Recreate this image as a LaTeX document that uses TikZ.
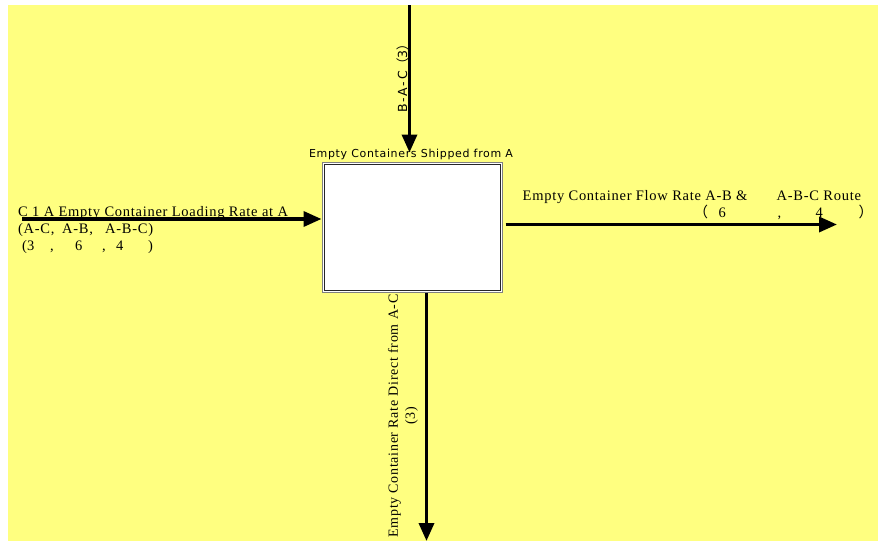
\documentclass[tikz,border=0pt]{standalone}
\usepackage{fontspec}
\usetikzlibrary{arrows.meta}
\newfontfamily\serifl{Liberation Serif}[LetterSpace=5]
\newfontfamily\sansl{DejaVu Sans}[LetterSpace=6]
\newfontfamily\sanswide{DejaVu Sans}[LetterSpace=15]
\newfontfamily\cjk{Noto Sans CJK JP}
\newcommand\putat[2]{\makebox[0pt][l]{\hspace*{#1}#2}}
\definecolor{bgyellow}{HTML}{FFFF80}
\tikzset{
  arr/.style={line width=3.5pt, draw=black, -{Triangle[length=18pt,width=15pt]}},
  serlab/.style={inner sep=0pt, font=\serifl\fontsize{14.5}{17}\selectfont, align=left},
  boxlab/.style={inner sep=0pt, font=\sansl\fontsize{11}{13}\selectfont},
  funcbox/.style={draw=gray, line width=1pt, fill=white, minimum width=180pt, minimum height=130pt, inner sep=0pt}
}
\begin{document}
\begin{tikzpicture}[x=1pt,y=-1pt]
\useasboundingbox (0,0) rectangle (879,541);
\fill[bgyellow] (8,5) rectangle (878,541);

\node[funcbox] (box) at (412,227) {};
\draw[black!85, line width=0.8pt] ([shift={(2.5pt,2.5pt)}]box.south west) rectangle ([shift={(-2.5pt,-2.5pt)}]box.north east);
\node[boxlab, anchor=base] (boxlabel) at (411,157) {Empty Containers Shipped from A};

% top arrow
\coordinate (topin) at (409.5,5);
\draw[arr] (topin) -- ([yshift=9pt]box.north -| topin);
\node[inner sep=0pt, font=\sanswide\fontsize{12.5}{14}\selectfont, rotate=90, anchor=base west] (toplabel) at (407,113) {B-A-C{\cjk（}3{\cjk）}};

% left arrow
\coordinate (leftin) at (22,219);
\draw[arr] (leftin) -- (leftin -| box.west);
\node[serlab, anchor=base west] (leftlabel) at (18,250) {C 1 A Empty Container Loading Rate at A\\\putat{0pt}{(A-C,}\putat{44pt}{A-B,}\putat{87pt}{A-B-C)}\\\putat{4pt}{(}\putat{9pt}{3}\putat{32pt}{,}\putat{57pt}{6}\putat{84pt}{,}\putat{98pt}{4}\putat{130pt}{)}};

% right arrow
\coordinate (rightout) at (837,224.5);
\draw[arr] ([xshift=3pt]box.east |- rightout) -- (rightout);
\node[serlab, anchor=base west] (rightlabel) at (522,217) {\putat{0pt}{Empty Container Flow Rate A-B \&}\putat{254pt}{A-B-C Route}\\\putat{171pt}{\cjk（}\putat{196pt}{6}\putat{255pt}{,}\putat{293pt}{4}\putat{336pt}{\cjk）}};

% bottom arrow
\coordinate (botout) at (426.5,541);
\draw[arr] (box.south -| botout) -- (botout);
\node[serlab, font=\serifl\fontsize{14}{17}\selectfont, align=center, rotate=90, anchor=center] (botlabel) at (403,416) {Empty Container Rate Direct from A-C\\(3)};
\end{tikzpicture}
\end{document}
